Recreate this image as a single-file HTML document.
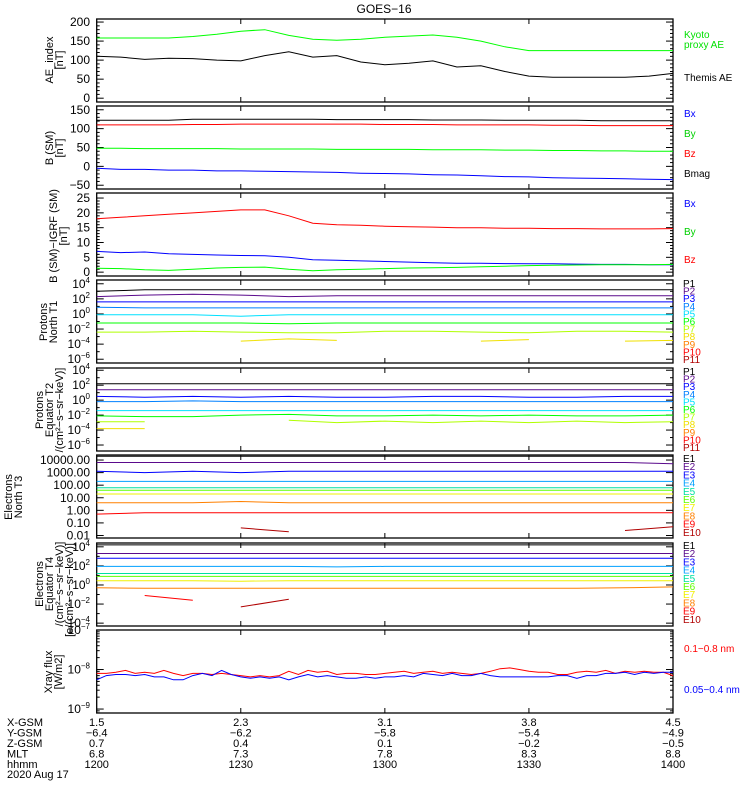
<!DOCTYPE html>
<html><head><meta charset="utf-8"><style>
body{margin:0;background:#fff}
svg{display:block;font-family:"Liberation Sans",sans-serif}
</style></head><body>
<svg id="c" width="750" height="800" xmlns="http://www.w3.org/2000/svg">
<rect width="750" height="800" fill="#fff"/>
<text x="384" y="13" font-size="12" text-anchor="middle">GOES−16</text>
</svg>
<script>
// ---- data ----
var t25=[0,5,10,15,20,25,30,35,40,45,50,55,60,65,70,75,80,85,90,95,100,105,110,115,120];
var t13=[0,10,20,30,40,50,60,70,80,90,100,110,120];
var kyoto=[158,158,158,158,162,168,176,180,165,155,152,155,160,163,166,160,150,135,125,125,125,125,125,125,125];
var themis=[110,108,102,105,104,100,98,112,122,108,112,95,88,92,98,82,85,70,58,55,55,55,55,58,65];
var bmag=[122,122,122,122,125,125,125,125,125,125,124,124,124,124,123,123,123,122,122,122,122,121,121,121,121];
var bz=[110,110,110,110,111,111,112,112,112,112,112,112,111,111,111,110,110,110,110,109,109,108,108,108,108];
var by=[48,48,47,47,47,47,46,46,46,46,45,45,45,45,44,44,44,43,43,42,42,41,41,40,40];
var bx=[-5,-8,-8,-10,-10,-12,-12,-13,-14,-15,-16,-18,-19,-20,-22,-23,-25,-27,-28,-30,-31,-32,-33,-34,-35];
var dbz=[18,18.5,19,19.5,20,20.5,21,21,19,16.5,16,15.8,15.5,15.3,15.2,15,15,14.8,14.8,14.7,14.7,14.6,14.6,14.6,14.7];
var dbx=[7,6.6,6.8,6.2,6,5.8,5.6,5.5,5,4.2,4,3.8,3.6,3.4,3.2,3,3,2.9,2.8,2.8,2.7,2.6,2.6,2.5,2.5];
var dby=[1.3,1.2,0.8,0.6,1,1.4,1.6,1.7,1,0.5,0.8,1,1.2,1.4,1.5,1.6,1.8,2,2.2,2.3,2.4,2.5,2.5,2.5,2.6];
// log10 flux, 10-minute samples
var pN=[
[3.0,3.2,3.2,3.2,3.2,3.2,3.2,3.2,3.2,3.2,3.2,3.2,3.2],
[2.3,2.5,2.6,2.5,2.3,2.4,2.4,2.4,2.4,2.4,2.4,2.4,2.4],
[1.6,1.6,1.6,1.6,1.6,1.6,1.6,1.6,1.6,1.6,1.6,1.6,1.6],
[0.9,0.8,0.8,0.8,0.8,0.8,0.8,0.8,0.8,0.8,0.8,0.8,0.8],
[-0.1,-0.1,-0.1,-0.3,-0.1,-0.1,-0.1,-0.1,-0.1,-0.1,-0.1,-0.1,-0.1],
[-1.2,-1.2,-1.2,-1.2,-1.3,-1.2,-1.2,-1.2,-1.2,-1.2,-1.2,-1.2,-1.2],
[-2.4,-2.4,-2.3,-2.4,-2.5,-2.5,-2.3,-2.3,-2.4,-2.5,-2.3,-2.3,-2.4],
[null,null,null,-3.6,-3.3,-3.5,null,null,-3.6,-3.4,null,-3.6,-3.5]];
var pE=[
[2.2,2.2,2.2,2.2,2.2,2.2,2.2,2.2,2.2,2.2,2.2,2.2,2.2],
[1.4,1.4,1.4,1.4,1.4,1.4,1.4,1.4,1.4,1.4,1.4,1.4,1.4],
[0.5,0.4,0.5,0.4,0.5,0.4,0.4,0.5,0.5,0.4,0.4,0.5,0.5],
[-0.2,-0.2,-0.1,-0.2,-0.2,-0.2,-0.2,-0.2,-0.2,-0.2,-0.2,-0.2,-0.2],
[-1.4,-1.4,-1.4,-1.4,-1.4,-1.4,-1.4,-1.4,-1.4,-1.4,-1.4,-1.4,-1.4],
[-2.1,-2.2,-2.2,-2.0,-1.9,-2.1,-2.1,-2.0,-2.1,-2.0,-2.1,-2.1,-2.0],
[-2.9,-2.9,null,null,-2.7,-3.0,-2.8,-3.0,-2.8,-3.0,-2.8,-3.0,-2.9],
[-3.8,-3.8,null,null,null,null,null,null,null,null,null,null,null]];
var eN=[
[4.3,4.3,4.3,4.3,4.3,4.3,4.3,4.3,4.3,4.3,4.3,4.3,4.3],
[3.8,3.8,3.8,3.8,3.8,3.8,3.8,3.8,3.8,3.8,3.8,3.8,3.7],
[3.1,3.0,3.1,3.0,3.1,3.1,3.1,3.1,3.1,3.1,3.1,3.1,3.1],
[2.3,2.3,2.3,2.3,2.3,2.3,2.3,2.3,2.3,2.3,2.3,2.3,2.3],
[1.8,1.8,1.8,1.8,1.8,1.8,1.8,1.8,1.8,1.8,1.8,1.8,1.8],
[1.6,1.6,1.6,1.6,1.6,1.6,1.6,1.6,1.6,1.6,1.6,1.6,1.6],
[1.3,1.3,1.3,1.3,1.3,1.3,1.3,1.3,1.3,1.3,1.3,1.3,1.3],
[0.6,0.6,0.6,0.7,0.6,0.6,0.6,0.6,0.6,0.6,0.6,0.6,0.6],
[-0.3,-0.2,-0.2,-0.2,-0.2,-0.2,-0.2,-0.2,-0.2,-0.2,-0.2,-0.2,-0.2],
[null,null,null,-1.4,-1.7,null,null,null,null,null,null,-1.6,-1.3]];
var eE=[
[4.2,4.2,4.2,4.2,4.2,4.2,4.2,4.2,4.2,4.2,4.2,4.2,4.2],
[3.3,3.3,3.3,3.3,3.3,3.3,3.3,3.3,3.3,3.3,3.3,3.3,3.3],
[2.8,2.8,2.8,2.8,2.8,2.8,2.8,2.8,2.8,2.8,2.8,2.8,2.8],
[1.95,1.95,1.95,1.95,1.95,1.9,1.95,1.95,1.95,1.95,1.95,1.95,1.95],
[1.2,1.2,1.2,1.2,1.2,1.2,1.2,1.2,1.2,1.2,1.2,1.2,1.2],
[0.9,0.9,0.9,0.9,0.9,0.9,0.9,0.9,0.9,0.9,0.9,0.9,0.9],
[0.45,0.45,0.45,0.4,0.45,0.45,0.45,0.45,0.45,0.45,0.45,0.45,0.45],
[-0.3,-0.35,-0.35,-0.35,-0.35,-0.35,-0.35,-0.35,-0.35,-0.35,-0.35,-0.3,-0.2],
[null,-1.1,-1.6,null,null,null,null,null,null,null,null,null,null],
[null,null,null,-2.3,-1.5,null,null,null,null,null,null,null,null]];
var t61=[];for(var i=0;i<=60;i++)t61.push(i*2);
var xrLong=[8,8,8.5,9.5,8,8.5,8,9.5,8,7,8,8,7.5,8,7.5,7,6.5,7,6.5,7,9,7.5,9.5,8.5,9,7.5,8,8,7.5,7.5,8,8.5,9,8,8.5,9,8,8.5,8,7.5,8,9,10.5,11,10,9,8.5,8.5,7.5,7.5,8.5,9,8.5,9.5,8,9,8.5,9,8.5,8.5,7];
var xrShort=[5.5,7,7.5,7.5,7,7.5,6.5,6.5,5.5,5.5,7,8,7,9.5,7.5,6.5,6,6.5,6,6.5,5.5,6.5,7.5,6.5,7,6.5,6,6,6.5,6,6.5,6.5,7,6.5,8,7.5,7,8,7,7,8,7,6.5,6.5,6.5,6.5,6.5,6.5,7,7,6,7,7,8,8,8.5,7.5,8.5,8,8.5,8.5];
var xTicks=['1.5','2.3','3.1','3.8','4.5'];
var yTicks=['−6.4','−6.2','−5.8','−5.4','−4.9'];
var zTicks=['0.7','0.4','0.1','−0.2','−0.5'];
var mltTicks=['6.8','7.3','7.8','8.3','8.8'];
var hhmm=['1200','1230','1300','1330','1400'];

// ---- drawing ----
var svg=document.getElementById('c'),NS='http://www.w3.org/2000/svg';
var X0=96.7,X1=673,H=83;
function sx(t){return X0+(X1-X0)*t/120;}
function mk(tag,attrs,parent){var e=document.createElementNS(NS,tag);for(var k in attrs)e.setAttribute(k,attrs[k]);(parent||svg).appendChild(e);return e;}
var panels=[
{top:19,min:-10,max:208},{top:106,min:-60,max:160},{top:193,min:-1.3,max:26.7},
{top:280,min:-6.5,max:4.5},{top:368,min:-6.8,max:4.3},{top:455,min:-2.2,max:4.4},
{top:543,min:-4.3,max:4.4},{top:630,min:-9.1,max:-7}];
function sy(p,v){return p.top+H-(v-p.min)/(p.max-p.min)*H;}
function line(p,ts,vs,color,name){
  var segs=[],cur=[];
  for(var i=0;i<vs.length;i++){if(vs[i]==null){if(cur.length)segs.push(cur);cur=[];}else cur.push(sx(ts[i]).toFixed(1)+','+sy(p,vs[i]).toFixed(1));}
  if(cur.length)segs.push(cur);
  segs.forEach(function(s){if(s.length<2)return;
    var e=mk('polyline',{points:s.join(' '),fill:'none',stroke:color,'stroke-width':1});
    
    });
}
function txt(x,y,s,opt){var e=mk('text',Object.assign({x:x,y:y,'font-size':11},opt||{}));e.textContent=s;return e;}
function supTxt(x,y,exp){var e=mk('text',{x:x,y:y,'font-size':12,'text-anchor':'end'});
  
  
  var a=document.createElementNS(NS,'tspan');a.textContent='10';e.appendChild(a);
  var b=document.createElementNS(NS,'tspan');b.setAttribute('dy','-5');b.setAttribute('font-size','8');b.textContent=exp;e.appendChild(b);}
function frame(p,idx){
  var r=mk('rect',{x:X0,y:p.top,width:X1-X0,height:H,fill:'none',stroke:'#000','stroke-width':1.3});
  
  
  for(var t=30;t<120;t+=30){mk('line',{x1:sx(t),x2:sx(t),y1:p.top+H,y2:p.top+H-5,stroke:'#000'});mk('line',{x1:sx(t),x2:sx(t),y1:p.top,y2:p.top+5,stroke:'#000'});}
}
function ytick(p,v,len){var y=sy(p,v);if(y<p.top-0.5||y>p.top+H+0.5)return;
  mk('line',{x1:X0,x2:X0+len,y1:y,y2:y,stroke:'#000'});mk('line',{x1:X1-len,x2:X1,y1:y,y2:y,stroke:'#000'});}
function rotLabel(lines,cx,cy){lines.forEach(function(s,i){
  var e=txt(0,0,s,{'text-anchor':'middle',transform:'translate('+(cx+i*10)+','+cy+') rotate(-90)'});
  
  });}
function legend(x,y0,dy,labels,colors){labels.forEach(function(s,i){
  var e=txt(x,y0+i*dy,s,{fill:colors[i],'font-size':10});
  
  });}

panels.forEach(frame);
var pc=['#000','#5a0a8c','#0000ff','#0080ff','#00e0ff','#00ff00','#b0ff00','#f0e000','#ff8000','#ff0000','#b00000'];
var ec=['#000','#5a0a8c','#0000ff','#00a0ff','#00e0a0','#60ff00','#f0f000','#ff8000','#ff0000','#b00000'];

var P=panels;
function linLabel(p,v){var e=txt(90,sy(p,v)+4,String(v).replace('-','−'),{'text-anchor':'end','font-size':12});}
// panel 1
for(var v=0;v<=200;v+=10)ytick(P[0],v,v%50?3:7);
[0,50,100,150,200].forEach(function(v){linLabel(P[0],v);});
line(P[0],t25,kyoto,'#00ff00','kyoto-ae-line');line(P[0],t25,themis,'#000','themis-ae-line');
rotLabel(['AE_index','[nT]'],53,60);
legend(684,38,10,['Kyoto','proxy AE'],['#00e000','#00e000']);legend(684,81,10,['Themis AE'],['#000']);
// panel 2
for(v=-50;v<=150;v+=10)ytick(P[1],v,v%50?3:7);
[-50,0,50,100,150].forEach(function(v){linLabel(P[1],v);});
line(P[1],t25,bmag,'#000','bmag-line');line(P[1],t25,bz,'#ff0000','bz-line');line(P[1],t25,by,'#00ff00','by-line');line(P[1],t25,bx,'#0000ff','bx-line');
rotLabel(['B (SM)','[nT]'],53,148);
legend(684,117,20,['Bx','By','Bz','Bmag'],['#0000ff','#00d000','#ff0000','#000']);
// panel 3
for(v=0;v<=25;v+=1)ytick(P[2],v,v%5?3:7);
[0,5,10,15,20,25].forEach(function(v){linLabel(P[2],v);});
line(P[2],t25,dbz,'#ff0000','dbz-line');line(P[2],t25,dbx,'#0000ff','dbx-line');line(P[2],t25,dby,'#00ff00','dby-line');
rotLabel(['B (SM)−IGRF (SM)','[nT]'],57,236);
legend(684,207,28,['Bx','By','Bz'],['#0000ff','#00d000','#ff0000']);
// log panels
function logAxis(p,lo,hi,labStep){for(var d=lo;d<=hi;d++){ytick(p,d,(d-lo)%labStep?3:7);
  if((d-lo)%labStep==0)supTxt(90,sy(p,d)+4,String(d).replace('-','−'));}}
logAxis(P[3],-6,4,2);pN.forEach(function(s,i){line(P[3],t13,s,pc[i],'proton-north-p'+(i+1));});
rotLabel(['Protons','North T1'],47,322);
legend(683,287,7.6,['P1','P2','P3','P4','P5','P6','P7','P8','P9','P10','P11'],pc);
logAxis(P[4],-6,4,2);pE.forEach(function(s,i){line(P[4],t13,s,pc[i],'proton-equator-p'+(i+1));});
rotLabel(['Protons','Equator T2','/(cm²−s−sr−keV)]'],43,410);
legend(683,375,7.6,['P1','P2','P3','P4','P5','P6','P7','P8','P9','P10','P11'],pc);
var eLab=['10000.00','1000.00','100.00','10.00','1.00','0.10','0.01'];
for(var d=-2;d<=4;d++){ytick(P[5],d,7);var e6=txt(90,sy(P[5],d)+4,eLab[4-d],{'text-anchor':'end','font-size':12});}
eN.forEach(function(s,i){line(P[5],t13,s,ec[i],'electron-north-e'+(i+1));});
rotLabel(['Electrons','North T3'],12,497);
legend(683,462,8.2,['E1','E2','E3','E4','E5','E6','E7','E8','E9','E10'],ec);
logAxis(P[6],-4,4,2);eE.forEach(function(s,i){line(P[6],t13,s,ec[i],'electron-equator-e'+(i+1));});
rotLabel(['Electrons','Equator T4','/(cm²−s−sr−keV)]'],43,584);
var t7=txt(0,0,'[e/(cm²−s−sr−keV)]',{'text-anchor':'middle',transform:'translate(73,590) rotate(-90)'});


legend(683,549,8.2,['E1','E2','E3','E4','E5','E6','E7','E8','E9','E10'],ec);
// panel 8 xray
for(d=-9;d<=-7;d++){supTxt(90,sy(P[7],d)+4,String(d).replace('-','−'));}
for(d=-10;d<-7;d++)for(var m=1;m<10;m++){var lv=d+Math.log10(m);ytick(P[7],lv,m==1?7:3);}
line(P[7],t61,xrLong.map(function(v){return Math.log10(v)-9;}),'#ff0000','xray-long-line');
line(P[7],t61,xrShort.map(function(v){return Math.log10(v)-9;}),'#0000ff','xray-short-line');
rotLabel(['Xray flux','[W/m2]'],52,672);
legend(684,652,0,['0.1−0.8 nm'],['#ff0000']);legend(684,693,0,['0.05−0.4 nm'],['#0000ff']);
// bottom table
var rows=[['X-GSM',xTicks],['Y-GSM',yTicks],['Z-GSM',zTicks],['MLT',mltTicks],['hhmm',hhmm]];
rows.forEach(function(r,ri){var y=726+ri*10.5;
  var e=txt(7,y,r[0]);
  r[1].forEach(function(s,i){var e2=txt(sx(i*30),y,s,{'text-anchor':'middle'});});});
var dt=txt(7,778,'2020 Aug 17');
</script>
</body></html>
